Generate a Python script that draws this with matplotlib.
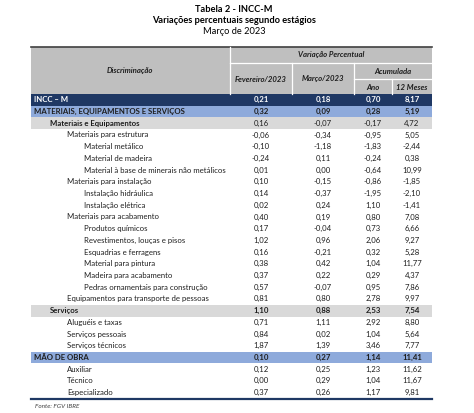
import matplotlib.pyplot as plt
from matplotlib.patches import Rectangle

plt.rcParams['font.family'] = ['Lato', 'DejaVu Sans']

# Dados da tabela
rotulos = [
    'INCC – M',
    'MATERIAIS, EQUIPAMENTOS E SERVIÇOS',
    'Materiais e Equipamentos',
    'Materiais para estrutura',
    'Material metálico',
    'Material de madeira',
    'Material à base de minerais não metálicos',
    'Materiais para instalação',
    'Instalação hidráulica',
    'Instalação elétrica',
    'Materiais para acabamento',
    'Produtos químicos',
    'Revestimentos, louças e pisos',
    'Esquadrias e ferragens',
    'Material para pintura',
    'Madeira para acabamento',
    'Pedras ornamentais para construção',
    'Equipamentos para transporte de pessoas',
    'Serviços',
    'Aluguéis e taxas',
    'Serviços pessoais',
    'Serviços técnicos',
    'MÃO DE OBRA',
    'Auxiliar',
    'Técnico',
    'Especializado',
]
niveis = [0, 0, 1, 2, 3, 3, 3, 2, 3, 3, 2, 3, 3, 3, 3, 3, 3, 2, 1, 2, 2, 2, 0, 2, 2, 2]
tipos = ['total', 'grupo', 'sub', '', '', '', '', '', '', '', '', '', '', '', '', '', '', '',
         'sub', '', '', '', 'grupo', '', '', '']

fevereiro = ['0,21', '0,32', '0,16', '-0,06', '-0,10', '-0,24', '0,01', '0,10', '0,14', '0,02',
             '0,40', '0,17', '1,02', '0,16', '0,38', '0,37', '0,57', '0,81', '1,10', '0,71',
             '0,84', '1,87', '0,10', '0,12', '0,00', '0,37']
marco = ['0,18', '0,09', '-0,07', '-0,34', '-1,18', '0,11', '0,00', '-0,15', '-0,37', '0,24',
         '0,19', '-0,04', '0,96', '-0,21', '0,42', '0,22', '-0,07', '0,80', '0,88', '1,11',
         '0,02', '1,39', '0,27', '0,25', '0,29', '0,26']
ano = ['0,70', '0,28', '-0,17', '-0,95', '-1,83', '-0,24', '-0,64', '-0,86', '-1,95', '1,10',
       '0,80', '0,73', '2,06', '0,32', '1,04', '0,29', '0,95', '2,78', '2,53', '2,92',
       '1,04', '3,46', '1,14', '1,23', '1,04', '1,17']
doze_meses = ['8,17', '5,19', '4,72', '5,05', '-2,44', '0,38', '10,99', '-1,85', '-2,10', '-1,41',
              '7,08', '6,66', '9,27', '5,28', '11,77', '4,37', '7,86', '9,97', '7,54', '8,80',
              '5,64', '7,77', '11,41', '11,62', '11,67', '9,81']
colunas = [fevereiro, marco, ano, doze_meses]

# Geometria (pixels)
esq, dir = 31.5, 432
limites = [esq, 230, 292, 354, 392, dir]
topo_cab, fim_cab = 47, 94
altura = (398.5 - fim_cab) / len(rotulos)
recuo = [34, 50, 67, 84]

cor_total = '#1f3864'
cor_grupo = '#8eaadb'
cor_sub = '#d9d9d9'
cor_cab = '#bfbfbf'
cor_texto = '#1e1e1e'
fs = 5.6

fig = plt.figure(figsize=(4.74, 4.13), dpi=100)
ax = fig.add_axes([0, 0, 1, 1])
ax.set_xlim(0, 474)
ax.set_ylim(413, 0)
ax.axis('off')

# Títulos
ax.text(234, 9, 'Tabela 2 - INCC-M', ha='center', va='center', fontsize=6.7, fontweight='bold', color='#000000')
ax.text(234, 20.5, 'Variações percentuais segundo estágios', ha='center', va='center', fontsize=6.7,
        fontweight='bold', color='#000000')
ax.text(234, 32, 'Março de 2023', ha='center', va='center', fontsize=6.7, color='#000000')

# Cabeçalho
ax.add_patch(Rectangle((esq, topo_cab), dir - esq, fim_cab - topo_cab, facecolor=cor_cab, edgecolor='none'))
ax.plot([esq, dir], [topo_cab, topo_cab], color='#404040', lw=1.2)
linha = dict(color='white', lw=0.9)
ax.plot([230, 230], [topo_cab, fim_cab], **linha)
ax.plot([230, dir], [63, 63], **linha)
ax.plot([292, 292], [63, fim_cab], **linha)
ax.plot([354, 354], [63, fim_cab], **linha)
ax.plot([354, dir], [79, 79], **linha)
ax.plot([392, 392], [79, fim_cab], **linha)
cab = dict(ha='center', va='center', fontsize=fs, fontweight='bold', fontstyle='italic', color=cor_texto)
ax.text(130, 71, 'Discriminação', **cab)
ax.text(331, 55, 'Variação Percentual', **cab)
ax.text(261, 79, 'Fevereiro/2023', **cab)
ax.text(323, 79, 'Março/2023', **cab)
ax.text(393, 71, 'Acumulada', **cab)
ax.text(373, 87, 'Ano', **cab)
ax.text(412, 87, '12 Meses', **cab)

# Linhas da tabela
centros = [(limites[i] + limites[i + 1]) / 2 for i in range(1, 5)]
for i, rotulo in enumerate(rotulos):
    y0 = fim_cab + i * altura
    yc = y0 + altura / 2
    tipo = tipos[i]
    cor_fundo = {'total': cor_total, 'grupo': cor_grupo, 'sub': cor_sub}.get(tipo)
    if cor_fundo:
        ax.add_patch(Rectangle((esq, y0), dir - esq, altura, facecolor=cor_fundo, edgecolor='none'))
    cor = 'white' if tipo == 'total' else cor_texto
    peso_rot = 'bold' if tipo else 'normal'
    peso_val = 'bold' if tipo and rotulo != 'Materiais e Equipamentos' else 'normal'
    ax.text(recuo[niveis[i]], yc, rotulo, ha='left', va='center', fontsize=fs, fontweight=peso_rot, color=cor)
    for xc, col in zip(centros, colunas):
        ax.text(xc, yc, col[i], ha='center', va='center', fontsize=fs, fontweight=peso_val, color=cor)

ax.plot([esq, dir], [398.8, 398.8], color=cor_total, lw=1.6)
ax.text(35, 406, 'Fonte: FGV IBRE', ha='left', va='center', fontsize=4.6, fontstyle='italic', color='#404040')

fig.savefig('out.png', dpi=100)
